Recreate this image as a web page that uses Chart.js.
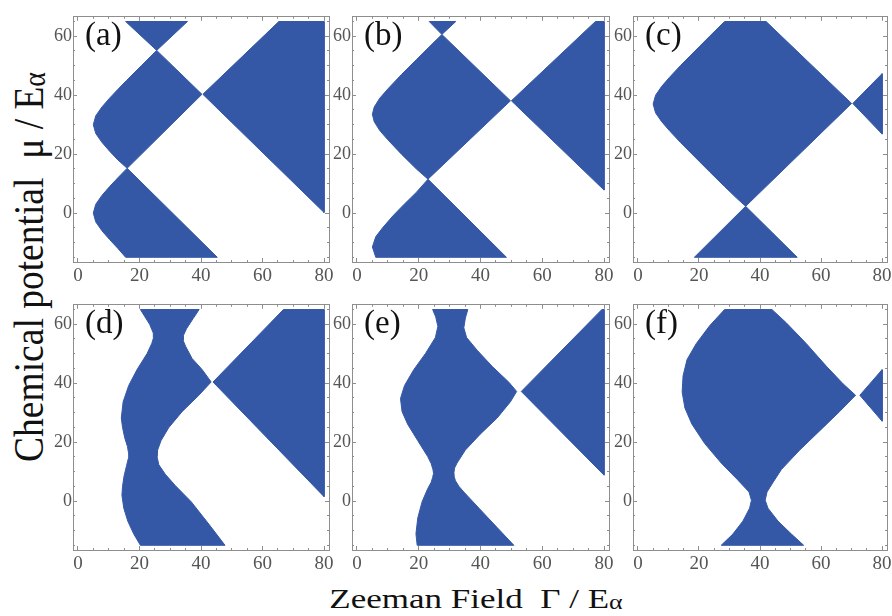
<!DOCTYPE html>
<html>
<head>
<meta charset="utf-8">
<script src="https://cdn.jsdelivr.net/npm/chart.js@4.4.1/dist/chart.umd.min.js"></script>
<style>
  html, body { margin: 0; padding: 0; background: #fff; overflow: hidden; }
  #wrap { position: relative; width: 892px; height: 616px; }
  canvas { position: absolute; }
  .lbl { position: absolute; font-family: "Liberation Serif", "Times New Roman", serif; font-size: 33px; line-height: 33px; color: #111; white-space: nowrap; }
  .title { position: absolute; font-family: "Liberation Serif", "Times New Roman", serif; color: #111; white-space: nowrap; }
  .sub { font-size: 0.74em; vertical-align: -0.06em; line-height: 0; }
</style>
</head>
<body>
<div id="wrap">
  <div class="title" id="ytitle" style="font-size:37.5px; line-height:40px; left:29px; top:267px; transform: translate(-50%,-50%) rotate(-90deg) scaleY(1.15);">Chemical potential&nbsp;&nbsp;μ / E<span class="sub">α</span></div>
  <div class="title" id="xtitle" style="font-size:28px; line-height:32px; left:476px; top:583px; transform: translateX(-50%) scaleX(1.25);">Zeeman Field&nbsp;&nbsp;Γ / E<span class="sub">α</span></div>
</div>
<script>
// axis ranges (Mathematica style padding around 0..80 and -15..65)
const xRange = [-1.6, 81.6];
const yRange = [-16.6, 66.6];

// tick values
const xMajor = [0, 20, 40, 60, 80];
const yMajor = [0, 20, 40, 60];
const xMinor = [0, 5, 10, 15, 20, 25, 30, 35, 40, 45, 50, 55, 60, 65, 70, 75, 80];
const yMinor = [-15, -10, -5, 0, 5, 10, 15, 20, 25, 30, 35, 40, 45, 50, 55, 60, 65];

// filled regions, [Gamma, mu] pairs
// (a)
const aTop = [[15.5,65],[35.6,65],[25.6,55.2]];
const aMid = [[25.6,55.2],[40.3,40.3],[16,15.2],[13,18],[10.3,21],[7.8,24],[5.8,27],[5,30],[5.8,33],[7.8,36],[10.3,39],[13,42],[15.8,45],[20.6,50]];
const aLow = [[16,15.2],[45.3,-15],[15.5,-15],[13,-12],[10.3,-9],[7.8,-6],[5.8,-3],[5,0],[5.8,3],[7.8,6],[10.3,9],[13,12]];
const aRight = [[40.6,40.3],[65.3,65],[80,65],[80,0.2]];
// (b)
const bTop = [[23.4,65],[32,65],[27.5,60.6]];
const bMid = [[27.5,60.6],[49.7,38.1],[23,11.5],[19.2,15],[14.4,20],[9.9,25],[7.4,28],[5.6,31],[5,33.5],[5.6,36],[7.4,39],[9.9,42],[14.4,47],[19.2,52],[24,57]];
const bLow = [[23,11.5],[48.4,-15],[6.1,-15],[5,-11.5],[6.1,-8],[8.3,-5],[11.6,-1],[15.3,3],[19.2,7]];
const bRight = [[50,38.1],[77.2,65],[80,65],[80,7.8]];
// (c)
const cMain = [[28.4,65],[42,65],[70,37.2],[35.3,2.3],[32.4,5],[28.4,9],[23.5,14],[18.7,19],[13.9,24],[10.3,28],[7.8,31],[5.8,34],[5,37],[5.8,40],[7.8,43],[10.3,46],[13.9,50],[18.7,55],[23.5,60]];
const cRight = [[70.4,37.2],[80,47.3],[80,26.8]];
const cLow = [[35.3,2.3],[52.2,-15],[18.5,-15]];
// (d)
const dLeft = [[20.3,65],[39.4,65],[37.5,62],[35.3,58.5],[34.2,56],[34.2,54.5],[35,52.5],[37.1,48.4],[40.4,44.6],[43.3,40.4],[39.3,35.9],[33.9,30.4],[29.5,24.9],[27,20.5],[25.9,17.3],[25.7,15.1],[26.3,12.3],[28.4,9.1],[31.7,5.2],[36.8,-0.2],[42.6,-7.9],[47.8,-15],[20.3,-15],[18.1,-11.1],[16.2,-6.8],[14.9,-2.4],[14.3,2],[14.5,5],[15,8.5],[15.8,12],[16.4,14.5],[16.5,16],[16.1,18.5],[15.2,21.5],[14.5,25],[14.1,28.2],[14.7,33.7],[16.5,39.2],[19.2,44.6],[22.5,50.1],[24,53.5],[24.6,55.5],[24.5,57],[23.3,60],[21.5,63]];
const dRight = [[43.9,40.4],[66.8,65],[80,65],[80,1.5]];
// (e)
const eLeft = [[24.5,65],[35.9,65],[35.1,62.1],[34.6,58.8],[35.5,55.5],[38.9,51.2],[43.8,45.7],[49.2,40.3],[51.7,37.2],[49.7,33.7],[45.4,28.2],[40,22.8],[35.1,17.3],[32.4,12.9],[31.6,11.2],[31.4,9.6],[31.5,8.2],[31.9,6.9],[33,5],[34.6,3.1],[39.5,-2.4],[45.4,-9],[50.8,-15],[19.5,-15],[19.1,-11.1],[19.7,-5.7],[21.1,-0.2],[22.9,4.2],[24,6.3],[24.5,8],[24.8,9.4],[24.6,10.7],[24,12.8],[22.9,15.1],[19.7,20.5],[16.4,26.1],[14.6,30.4],[14.1,34.8],[15.4,39.2],[18.4,44.6],[22.2,50.1],[25.4,55.5],[26.2,59.3],[25.5,62.5]];
const eRight = [[53.2,37.2],[79.3,65],[80,65],[80,8.8]];
// (f)
const fMain = [[28.4,65],[43.9,65],[48.6,60.5],[55.2,53.4],[61.7,45.8],[67.2,39.8],[71.3,35.9],[66.1,30.4],[59.6,23.9],[53,17.3],[47,10.7],[44.3,6.4],[42.3,3.1],[41.7,0.3],[42.6,-2.4],[45.9,-6.8],[50.3,-11.2],[54.3,-15],[27.3,-15],[31.1,-11.2],[34.4,-6.8],[36.6,-2.4],[37.2,0.3],[36.4,3.1],[32.5,7.4],[27.3,12.9],[21.9,19.5],[17.7,26.1],[15.4,31.6],[14.5,37],[14.8,42.5],[16.1,48],[19.1,53.4],[23.5,59.5]];
const fRight = [[72.7,35.9],[80,44.6],[80,27.1]];

const panelNames = ['(a)', '(b)', '(c)', '(d)', '(e)', '(f)'];
const panelShapes = [
  [aTop, aMid, aLow, aRight],
  [bTop, bMid, bLow, bRight],
  [cMain, cRight, cLow],
  [dLeft, dRight],
  [eLeft, eRight],
  [fMain, fRight]
];

// frame positions on the page
const frames = [
  {left: 73, top: 7, w: 256, h: 255},
  {left: 352, top: 7, w: 257, h: 255},
  {left: 633, top: 7, w: 254, h: 255},
  {left: 73, top: 295, w: 256, h: 255},
  {left: 352, top: 295, w: 257, h: 255},
  {left: 633, top: 295, w: 254, h: 255}
];

const blue = 'rgb(52, 88, 166)';
const frameColor = '#8e8e8e';
const padL = 40, padR = 14, padT = 6, padB = 40;

function makeAxis(pos, vals, range, tickLen, showLabels, weight, size) {
  const horiz = pos === 'top' || pos === 'bottom';
  return {
    type: 'linear',
    position: pos,
    min: range[0],
    max: range[1],
    weight: weight,
    grid: { display: true, drawOnChartArea: false, drawTicks: true, tickLength: tickLen, tickColor: frameColor, lineWidth: 1 },
    border: { display: true, color: frameColor, width: 1 },
    ticks: {
      display: showLabels,
      autoSkip: false,
      maxRotation: 0,
      color: '#555',
      font: { family: 'Liberation Serif', size: horiz ? 19 : 18 },
      padding: horiz ? 7 : 5
    },
    afterBuildTicks: s => { s.ticks = vals.map(v => ({ value: v })); },
    afterFit: s => { if (horiz) s.height = size; else s.width = size; }
  };
}

const wrap = document.getElementById('wrap');

frames.forEach((f, i) => {
  const cv = document.createElement('canvas');
  cv.width = f.w + padL + padR;
  cv.height = f.h + padT + padB;
  cv.style.left = (f.left - padL) + 'px';
  cv.style.top = (f.top - padT) + 'px';
  wrap.appendChild(cv);

  const lbl = document.createElement('div');
  lbl.className = 'lbl';
  lbl.textContent = panelNames[i];
  lbl.style.left = (f.left + 12) + 'px';
  lbl.style.top = (f.top + 11) + 'px';
  wrap.appendChild(lbl);

  const datasets = panelShapes[i].map(shape => ({
    data: shape.concat([shape[0]]).map(p => ({ x: p[0], y: p[1] })),
    showLine: true,
    fill: 'shape',
    backgroundColor: blue,
    borderColor: blue,
    borderWidth: 1,
    pointRadius: 0,
    tension: 0
  }));

  new Chart(cv.getContext('2d'), {
    type: 'scatter',
    data: { datasets: datasets },
    options: {
      responsive: false,
      animation: false,
      events: [],
      layout: { padding: { left: 0, right: padR, top: padT, bottom: 0 } },
      plugins: { legend: { display: false }, tooltip: { enabled: false } },
      scales: {
        x: makeAxis('bottom', xMajor, xRange, -4, true, 1, padB),
        xm: makeAxis('bottom', xMinor, xRange, -2, false, 0, 0),
        xt: makeAxis('top', xMajor, xRange, -4, false, 1, 0),
        xtm: makeAxis('top', xMinor, xRange, -2, false, 0, 0),
        y: makeAxis('left', yMajor, yRange, -4, true, 1, padL),
        ym: makeAxis('left', yMinor, yRange, -2, false, 0, 0),
        yr: makeAxis('right', yMajor, yRange, -4, false, 1, 0),
        yrm: makeAxis('right', yMinor, yRange, -2, false, 0, 0)
      }
    }
  });
});
</script>
</body>
</html>
